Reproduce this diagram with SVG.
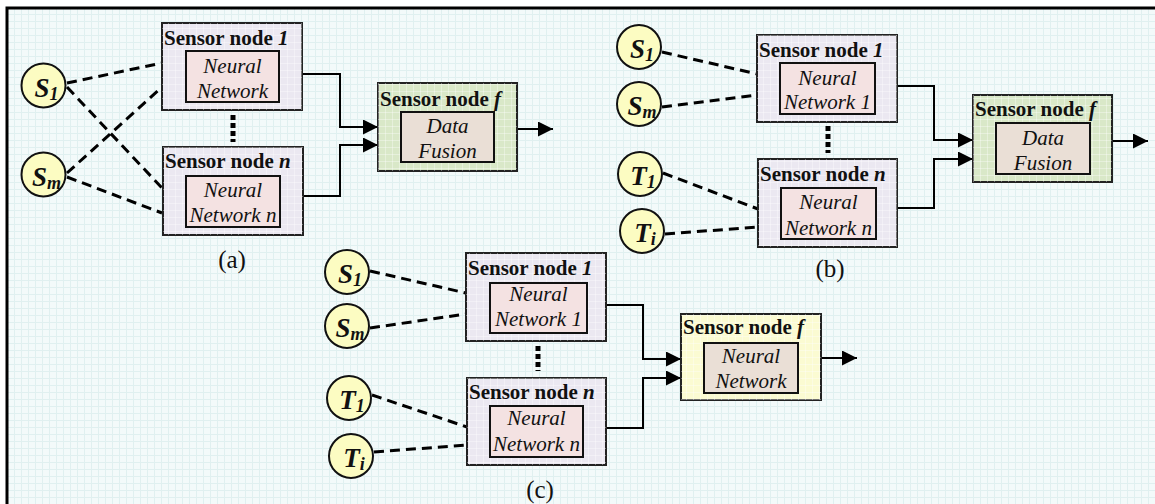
<svg xmlns="http://www.w3.org/2000/svg" width="1155" height="504" viewBox="0 0 1155 504">
<style>
.frame{fill:url(#grid);stroke:#000;stroke-width:3}
.sn{fill:#ebe8f1;stroke:#222;stroke-width:2}
.nn{fill:#f4e2e2;stroke:#111;stroke-width:2}
.fg{fill:#d9e8c8;stroke:#222;stroke-width:2}
.fy{fill:#fbfbd2;stroke:#222;stroke-width:2}
.fi{fill:#eadfd6;stroke:#111;stroke-width:2}
.ov{fill:url(#gridov)}
.cir{fill:#fcfcc2;stroke:#111;stroke-width:2}
.title{font-family:"Liberation Serif",serif;font-weight:bold;font-size:21px;fill:#111}
.it{font-family:"Liberation Serif",serif;font-style:italic;font-size:21px;fill:#111;text-anchor:middle}
.lbl{font-family:"Liberation Serif",serif;font-weight:bold;font-style:italic;font-size:27px;fill:#111;text-anchor:middle}
.cap{font-family:"Liberation Serif",serif;font-size:25px;fill:#111;text-anchor:middle}
.dash{fill:none;stroke:#000;stroke-width:3;stroke-dasharray:10 6}
.dots{fill:none;stroke:#000;stroke-width:5;stroke-dasharray:5 3}
.wire{fill:none;stroke:#000;stroke-width:2}
</style>
<defs>
<pattern id="grid" width="7" height="7" patternUnits="userSpaceOnUse">
<rect width="7" height="7" fill="#f3fafa"/>
<path d="M0,0.5H7M0.5,0V7" stroke="#e0f0f0" stroke-width="1"/>
</pattern>
<pattern id="gridov" width="7" height="7" patternUnits="userSpaceOnUse">
<path d="M0,0.5H7M0.5,0V7" stroke="#ffffff" stroke-opacity="0.35" stroke-width="1"/>
</pattern>
<marker id="ah" markerUnits="userSpaceOnUse" markerWidth="15" markerHeight="15" viewBox="0 0 15 15" refX="15" refY="7.5" orient="auto">
<path d="M0,0L15,7.5L0,15z" fill="#000"/>
</marker>
</defs>
<rect width="1155" height="504" fill="#fff"/>
<rect class="frame" x="7" y="8" width="1165" height="515"/>

<g id="connectors">
<!-- (a) -->
<path class="dash" d="M67,83L162,63"/>
<path class="dash" d="M67,87L162,188"/>
<path class="dash" d="M67,173L162,87"/>
<path class="dash" d="M67,177L162,213"/>
<path class="dots" d="M233,115V142"/>
<path class="wire" d="M302,74H340V127H378" marker-end="url(#ah)"/>
<path class="wire" d="M303,196H340V145H378" marker-end="url(#ah)"/>
<path class="wire" d="M517,129H553" marker-end="url(#ah)"/>
<!-- (b) -->
<path class="dash" d="M662,52L757,74"/>
<path class="dash" d="M662,107L757,95"/>
<path class="dash" d="M663,173L758,209"/>
<path class="dash" d="M665,234L758,227"/>
<path class="dots" d="M828,126V153"/>
<path class="wire" d="M897,86H934V140H973" marker-end="url(#ah)"/>
<path class="wire" d="M897,208H934V159H973" marker-end="url(#ah)"/>
<path class="wire" d="M1112,141H1148" marker-end="url(#ah)"/>
<!-- (c) -->
<path class="dash" d="M370,271L466,293"/>
<path class="dash" d="M370,328L466,314"/>
<path class="dash" d="M372,395L467,427"/>
<path class="dash" d="M374,452L467,445"/>
<path class="dots" d="M538,346V371"/>
<path class="wire" d="M606,305H643V359H681" marker-end="url(#ah)"/>
<path class="wire" d="M606,428H643V378H681" marker-end="url(#ah)"/>
<path class="wire" d="M821,358H857" marker-end="url(#ah)"/>
</g>

<!-- panel (a) -->
<g id="a-S1"><circle class="cir" cx="43.5" cy="85.5" r="22"/><text class="lbl" x="46.5" y="97">S<tspan font-size="18" dy="3">1</tspan></text></g>
<g id="a-Sm"><circle class="cir" cx="43.5" cy="174.5" r="22"/><text class="lbl" x="46.5" y="186">S<tspan font-size="18" dy="3">m</tspan></text></g>
<g id="a-node1"><rect class="sn" x="162" y="23" width="140" height="87"/><rect class="ov" x="162" y="23" width="140" height="87"/><text class="title" x="164" y="45">Sensor node <tspan font-style="italic">1</tspan></text><rect class="nn" x="186" y="51" width="93" height="51"/><text class="it" x="232.5" y="73">Neural</text><text class="it" x="232.5" y="98">Network</text></g>
<g id="a-noden"><rect class="sn" x="163" y="147" width="140" height="88"/><rect class="ov" x="163" y="147" width="140" height="88"/><text class="title" x="165" y="168">Sensor node <tspan font-style="italic">n</tspan></text><rect class="nn" x="186" y="176" width="94" height="51"/><text class="it" x="233" y="197">Neural</text><text class="it" x="233" y="222">Network n</text></g>
<g id="a-nodef"><rect class="fg" x="378" y="83" width="139" height="88"/><rect class="ov" x="378" y="83" width="139" height="88"/><text class="title" x="380" y="106">Sensor node <tspan font-style="italic">f</tspan></text><rect class="fi" x="401" y="112" width="93" height="50"/><text class="it" x="447.5" y="133">Data</text><text class="it" x="447.5" y="158">Fusion</text></g>
<text class="cap" x="232" y="268">(a)</text>

<!-- panel (b) -->
<g id="b-S1"><circle class="cir" cx="639" cy="47" r="22"/><text class="lbl" x="642" y="58">S<tspan font-size="18" dy="3">1</tspan></text></g>
<g id="b-Sm"><circle class="cir" cx="639" cy="104" r="22"/><text class="lbl" x="642" y="115">S<tspan font-size="18" dy="3">m</tspan></text></g>
<g id="b-T1"><circle class="cir" cx="640" cy="174" r="22"/><text class="lbl" x="643" y="185">T<tspan font-size="18" dy="3">1</tspan></text></g>
<g id="b-Ti"><circle class="cir" cx="642" cy="231" r="22"/><text class="lbl" x="645" y="242">T<tspan font-size="18" dy="3">i</tspan></text></g>
<g id="b-node1"><rect class="sn" x="757" y="35" width="140" height="87"/><rect class="ov" x="757" y="35" width="140" height="87"/><text class="title" x="759" y="57">Sensor node <tspan font-style="italic">1</tspan></text><rect class="nn" x="780" y="63" width="95" height="51"/><text class="it" x="827.5" y="85">Neural</text><text class="it" x="827.5" y="109">Network 1</text></g>
<g id="b-noden"><rect class="sn" x="758" y="159" width="139" height="88"/><rect class="ov" x="758" y="159" width="139" height="88"/><text class="title" x="760" y="181">Sensor node <tspan font-style="italic">n</tspan></text><rect class="nn" x="781" y="188" width="95" height="51"/><text class="it" x="828.5" y="209">Neural</text><text class="it" x="828.5" y="235">Network n</text></g>
<g id="b-nodef"><rect class="fg" x="973" y="95" width="139" height="87"/><rect class="ov" x="973" y="95" width="139" height="87"/><text class="title" x="975" y="116">Sensor node <tspan font-style="italic">f</tspan></text><rect class="fi" x="996" y="123" width="94" height="51"/><text class="it" x="1043" y="145">Data</text><text class="it" x="1043" y="170">Fusion</text></g>
<text class="cap" x="830" y="277">(b)</text>

<!-- panel (c) -->
<g id="c-S1"><circle class="cir" cx="347" cy="272" r="22"/><text class="lbl" x="350" y="283">S<tspan font-size="18" dy="3">1</tspan></text></g>
<g id="c-Sm"><circle class="cir" cx="347" cy="326" r="22"/><text class="lbl" x="350" y="337">S<tspan font-size="18" dy="3">m</tspan></text></g>
<g id="c-T1"><circle class="cir" cx="349" cy="398" r="22"/><text class="lbl" x="352" y="409">T<tspan font-size="18" dy="3">1</tspan></text></g>
<g id="c-Ti"><circle class="cir" cx="351" cy="456" r="22"/><text class="lbl" x="354" y="467">T<tspan font-size="18" dy="3">i</tspan></text></g>
<g id="c-node1"><rect class="sn" x="466" y="253" width="140" height="88"/><rect class="ov" x="466" y="253" width="140" height="88"/><text class="title" x="468" y="275">Sensor node <tspan font-style="italic">1</tspan></text><rect class="nn" x="490" y="283" width="97" height="50"/><text class="it" x="538.5" y="301">Neural</text><text class="it" x="538.5" y="326">Network 1</text></g>
<g id="c-noden"><rect class="sn" x="467" y="378" width="139" height="87"/><rect class="ov" x="467" y="378" width="139" height="87"/><text class="title" x="469" y="399">Sensor node <tspan font-style="italic">n</tspan></text><rect class="nn" x="490" y="406" width="93" height="51"/><text class="it" x="536.5" y="425">Neural</text><text class="it" x="536.5" y="451">Network n</text></g>
<g id="c-nodef"><rect class="fy" x="681" y="314" width="140" height="86"/><rect class="ov" x="681" y="314" width="140" height="86"/><text class="title" x="683" y="334">Sensor node <tspan font-style="italic">f</tspan></text><rect class="fi" x="704" y="343" width="94" height="50"/><text class="it" x="751" y="363">Neural</text><text class="it" x="751" y="388">Network</text></g>
<text class="cap" x="540" y="498">(c)</text>
</svg>
